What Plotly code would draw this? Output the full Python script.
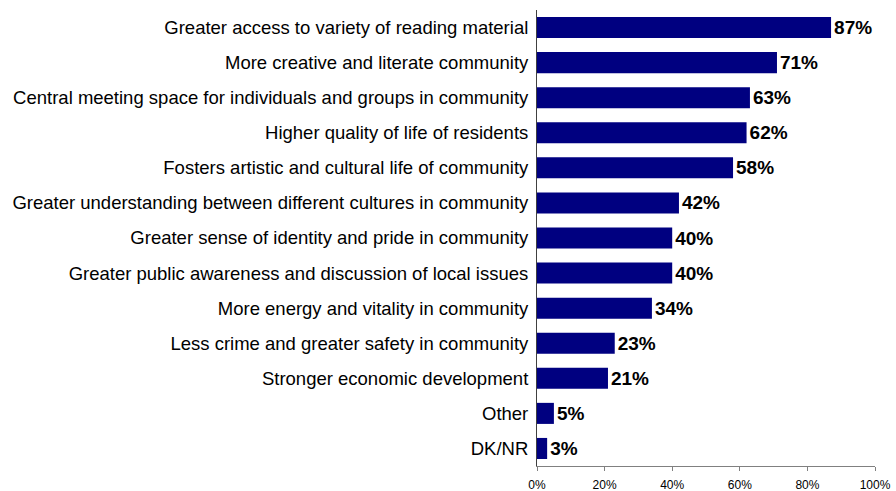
import plotly.graph_objects as go

# Survey responses, listed top to bottom
categories = [
    "Greater access to variety of reading material",
    "More creative and literate community",
    "Central meeting space for individuals and groups in community",
    "Higher quality of life of residents",
    "Fosters artistic and cultural life of community",
    "Greater understanding between different cultures in community",
    "Greater sense of identity and pride in community",
    "Greater public awareness and discussion of local issues",
    "More energy and vitality in community",
    "Less crime and greater safety in community",
    "Stronger economic development",
    "Other",
    "DK/NR",
]
values = [87, 71, 63, 62, 58, 42, 40, 40, 34, 23, 21, 5, 3]
x_ticks = [0, 20, 40, 60, 80, 100]

fig = go.Figure(
    go.Bar(
        x=values,
        y=categories,
        orientation="h",
        marker=dict(color="#000080", line=dict(width=0)),
        text=[f"{v}%" for v in values],
        textposition="outside",
        textfont=dict(family="Liberation Sans, Arial, sans-serif", size=19, color="black", weight="bold"),
        cliponaxis=False,
        width=0.6,
    )
)

fig.update_layout(
    width=896,
    height=491,
    margin=dict(l=537, r=21, t=10, b=25, autoexpand=False),
    plot_bgcolor="white",
    paper_bgcolor="white",
    showlegend=False,
    font=dict(family="Liberation Sans, Arial, sans-serif", color="black"),
    xaxis=dict(
        range=[0, 100],
        tickvals=x_ticks,
        ticktext=[f"{t}%" for t in x_ticks],
        ticks="outside",
        ticklen=4,
        tickcolor="#808080",
        showline=True,
        linecolor="#808080",
        linewidth=1,
        showgrid=False,
        zeroline=False,
        automargin=False,
        ticklabelstandoff=4,
        tickfont=dict(size=12),
    ),
    yaxis=dict(
        range=[12.5, -0.5],
        showline=True,
        linecolor="#404040",
        linewidth=1,
        showgrid=False,
        zeroline=False,
        automargin=False,
        ticks="",
        ticklabelstandoff=4,
        tickfont=dict(size=18.5),
    ),
)

fig.write_html("out.html")
